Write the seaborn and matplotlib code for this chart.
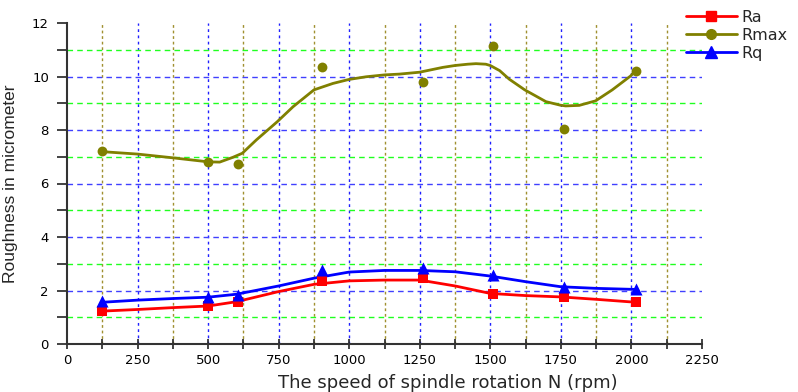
import numpy as np
import pandas as pd
import matplotlib
matplotlib.use("Agg")
import matplotlib.pyplot as plt
import seaborn as sns
from matplotlib.lines import Line2D

# measured points
speed = [125, 500, 605, 905, 1260, 1510, 1760, 2015]
ra = [1.23, 1.42, 1.58, 2.36, 2.45, 1.86, 1.76, 1.56]
rmax = [7.21, 6.79, 6.73, 10.34, 9.81, 11.13, 8.04, 10.22]
rq = [1.60, 1.77, 1.83, 2.75, 2.83, 2.58, 2.12, 2.06]

# smoothed curves
fit_x = [125, 250, 375, 500, 600, 750, 875, 1000, 1125, 1250, 1375, 1500, 1625, 1750, 1875, 2015]
ra_fit = [1.23, 1.29, 1.36, 1.42, 1.58, 1.96, 2.23, 2.36, 2.39, 2.39, 2.17, 1.89, 1.81, 1.76, 1.67, 1.56]
rq_fit = [1.56, 1.64, 1.70, 1.75, 1.86, 2.17, 2.46, 2.69, 2.75, 2.75, 2.70, 2.54, 2.33, 2.14, 2.08, 2.04]

rmax_fit_x = [125, 250, 375, 500, 541, 588, 621, 671, 745, 801, 875, 942, 999, 1060, 1125, 1178,
              1249, 1331, 1374, 1420, 1449, 1484, 1500, 1533, 1567, 1622, 1697, 1747, 1767, 1815,
              1873, 1932, 1997, 2015]
rmax_fit = [7.19, 7.10, 6.96, 6.81, 6.80, 6.98, 7.13, 7.63, 8.31, 8.87, 9.50, 9.74, 9.89, 9.99, 10.06, 10.09,
            10.16, 10.34, 10.41, 10.46, 10.48, 10.46, 10.41, 10.22, 9.90, 9.50, 9.06, 8.93, 8.90, 8.92,
            9.09, 9.50, 10.02, 10.22]

x_major = [0, 250, 500, 750, 1000, 1250, 1500, 1750, 2000, 2250]
y_major = [0, 2, 4, 6, 8, 10, 12]

c_ra, c_rmax, c_rq = "#ff0000", "#808000", "#0000ff"

sns.set_style("ticks")
plt.rcParams["font.family"] = ["DejaVu Sans"]

fig = plt.figure(figsize=(7.98, 3.92), dpi=100)
ax = fig.add_axes([67 / 798, 1 - 344 / 392, 635 / 798, 321 / 392])

# grid drawn by hand so the edges stay clear
for v in x_major[1:-1]:
    ax.axvline(v, color="#2020ff", lw=1, ls=(0, (2, 2.5)), zorder=0)
for v in np.arange(125, 2250, 250):
    ax.axvline(v, color="#a09030", lw=1, ls=(0, (2, 2)), zorder=0)
for v in y_major[1:-1]:
    ax.axhline(v, color="#4040ff", lw=1, ls=(0, (4, 3)), zorder=0)
for v in range(1, 12, 2):
    ax.axhline(v, color="#20ff20", lw=1, ls=(0, (4, 3)), zorder=0)

sns.lineplot(x=fit_x, y=ra_fit, ax=ax, color=c_ra, lw=2, sort=False)
sns.lineplot(x=rmax_fit_x, y=rmax_fit, ax=ax, color=c_rmax, lw=2, sort=False)
sns.lineplot(x=fit_x, y=rq_fit, ax=ax, color=c_rq, lw=2, sort=False)
sns.scatterplot(x=speed, y=ra, ax=ax, color=c_ra, marker="s", s=55, linewidth=0, zorder=5)
sns.scatterplot(x=speed, y=rmax, ax=ax, color=c_rmax, marker="o", s=50, linewidth=0, zorder=5)
sns.scatterplot(x=speed, y=rq, ax=ax, color=c_rq, marker="^", s=75, linewidth=0, zorder=5)

ax.set_xlim(0, 2250)
ax.set_ylim(0, 12)
ax.set_xticks(x_major)
ax.set_xticks(np.arange(125, 2250, 250), minor=True)
ax.set_yticks(y_major)
ax.set_yticks(range(1, 12, 2), minor=True)
ax.tick_params(axis="x", which="both", direction="inout", length=7, width=1.2, colors="#222222",
               labelsize=9.5, pad=4)
ax.tick_params(axis="y", which="both", direction="out", length=7, width=1.2, colors="#222222",
               labelsize=9.5, pad=6)
ax.tick_params(labelcolor="black")
sns.despine(ax=ax)
for s in ["left", "bottom"]:
    ax.spines[s].set_linewidth(1.5)
    ax.spines[s].set_color("#333333")

ax.set_xlabel("The speed of spindle rotation N (rpm)", fontsize=13, labelpad=3)
ax.xaxis.set_label_coords(0.6, -0.095)
ax.set_ylabel("Roughness in micrometer", fontsize=12.5, labelpad=10,
              family=["Liberation Sans Narrow", "Liberation Sans", "DejaVu Sans"])

handles = [
    Line2D([], [], color=c_ra, lw=2, marker="s", ms=7),
    Line2D([], [], color=c_rmax, lw=2, marker="o", ms=7),
    Line2D([], [], color=c_rq, lw=2, marker="^", ms=8),
]
fig.legend(handles, ["Ra", "Rmax", "Rq"], loc="upper left", bbox_to_anchor=(676 / 798, 1.0),
           frameon=False, fontsize=11.5, handlelength=3.2, handletextpad=0.3, labelspacing=0.2,
           borderaxespad=0.2)

fig.savefig("out.png", dpi=100)
